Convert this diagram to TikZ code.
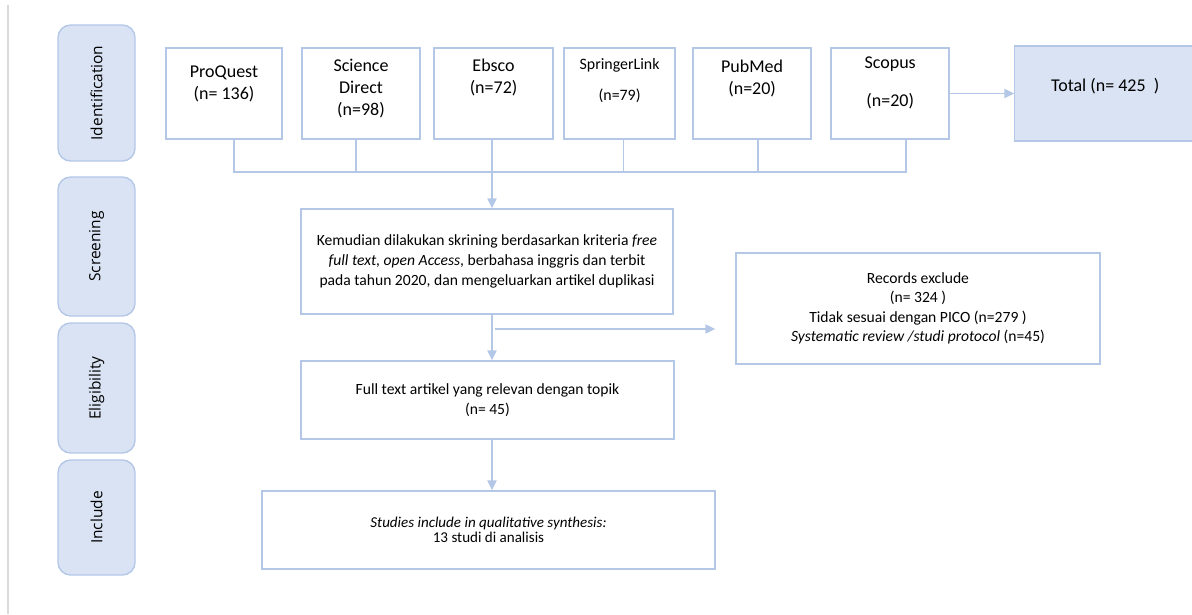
\documentclass[tikz,border=0pt]{standalone}
\usepackage{fontspec}
\setmainfont{Carlito}
\newfontfamily\stagefont{Open Sans}
\usepackage{xcolor}
\usetikzlibrary{arrows.meta,positioning}
\definecolor{lineblue}{RGB}{180,199,231}
\definecolor{fillblue}{RGB}{218,227,243}
\definecolor{edgegray}{RGB}{218,218,218}

\begin{document}
\begin{tikzpicture}[x=0.025cm, y=-0.025cm]
    \tikzstyle{stage} = [rectangle, draw=lineblue, fill=fillblue, line width=1pt, rounded corners=9pt, minimum width=1.925cm, font=\stagefont\fontsize{11}{13}\selectfont]
    \tikzstyle{dbbox} = [rectangle, draw=lineblue, line width=1pt, outer sep=0pt, minimum height=2.275cm]
    \tikzstyle{dbtext} = [align=center, inner sep=0pt, font=\fontsize{12.8}{15.6}\selectfont]
    \tikzstyle{block} = [rectangle, draw=lineblue, line width=1pt, align=center, font=\fontsize{11.1}{14.3}\selectfont]
    \tikzstyle{line} = [draw=lineblue, line width=1pt]
    \tikzstyle{arrow} = [line, -{Triangle[length=7pt,width=6.5pt]}]

    \useasboundingbox (0,0) rectangle (1192,614);
    \draw [edgegray, line width=1.5pt] (8,5) -- (8,614);

    % stages on the left
    \node [stage, minimum height=3.4cm] (ident) at (96.5,93) {\rotatebox{90}{Identification}};
    \node [stage, minimum height=3.475cm] (screening) at (96.5,246.5) {\rotatebox{90}{Screening}};
    \node [stage, minimum height=3.25cm] (eligibility) at (96.5,388) {\rotatebox{90}{Eligibility}};
    \node [stage, minimum height=2.875cm] (include) at (96.5,517.5) {\rotatebox{90}{Include}};

    % databases
    \node [dbbox, minimum width=2.9cm] (proquest) at (224,93.5) {};
    \node [dbbox, minimum width=2.95cm, right=0.5cm of proquest] (scidirect) {};
    \node [dbbox, minimum width=2.975cm, right=0.35cm of scidirect] (ebsco) {};
    \node [dbbox, minimum width=2.775cm, right=0.275cm of ebsco] (springer) {};
    \node [dbbox, minimum width=2.95cm, right=0.45cm of springer] (pubmed) {};
    \node [dbbox, minimum width=2.95cm, right=0.5cm of pubmed] (scopus) {};
    \node [dbbox, fill=fillblue, minimum width=4.55cm, minimum height=2.375cm, right=1.625cm of scopus] (total) {};

    \node [dbtext] (proquest-t) at ([yshift=0.24cm]proquest.center) {ProQuest\\(n= 136)};
    \node [dbtext] (scidirect-t) at ([yshift=0.125cm]scidirect.center) {Science\\Direct\\(n=98)};
    \node [dbtext] (ebsco-t) at ([yshift=0.4cm]ebsco.center) {Ebsco\\(n=72)};
    \node [dbtext, font=\fontsize{11.3}{14}\selectfont] (springer-t) at ([yshift=0.325cm]springer.center) {SpringerLink\\[0.28cm](n=79)};
    \node [dbtext] (pubmed-t) at ([yshift=0.375cm]pubmed.center) {PubMed\\(n=20)};
    \node [dbtext] (scopus-t) at ([yshift=0.26cm]scopus.center) {Scopus\\[0.4cm](n=20)};
    \node [dbtext] (total-t) at ([yshift=0.19cm]total.center) {Total (n= 425\ \ )};

    % flow boxes
    \node [block, minimum width=9.3cm, minimum height=2.625cm] (screen) at (487,261.5) {Kemudian dilakukan skrining berdasarkan kriteria \textit{free}\\\textit{full text, open Access}, berbahasa inggris dan terbit\\pada tahun 2020, dan mengeluarkan artikel duplikasi};
    \node [block, minimum width=9.1cm, minimum height=2.775cm, font=\fontsize{11.1}{13.8}\selectfont] (exclude) at (918,308.5) {Records exclude\\(n= 324 )\\Tidak sesuai dengan PICO (n=279 )\\\textit{Systematic review /studi protocol} (n=45)};
    \node [block, minimum width=9.325cm, minimum height=1.95cm] (elig) at (487.5,400) {Full text artikel yang relevan dengan topik\\(n= 45)};
    \node [block, minimum width=11.325cm, minimum height=1.95cm, font=\fontsize{10.7}{10.6}\selectfont] (incl) at (488.5,530) {\textit{Studies include in qualitative synthesis:}\\13 studi di analisis};

    % connectors
    \coordinate (bus) at (492,172);
    \coordinate (split) at (492,329);
    \draw [line] ([xshift=0.25cm]proquest.south) |- (bus) -| ([xshift=0.4cm]scopus.south);
    \draw [line] ([xshift=-0.125cm]scidirect.south) -- ([xshift=-0.125cm]scidirect.south |- bus);
    \draw [line] ([xshift=-0.04cm]ebsco.south) -- ([xshift=-0.04cm]ebsco.south |- bus);
    \draw [line] ([xshift=0.09cm]springer.south) -- ([xshift=0.09cm]springer.south |- bus);
    \draw [line] ([xshift=0.15cm]pubmed.south) -- ([xshift=0.15cm]pubmed.south |- bus);
    \draw [arrow] (scopus.east) -- (scopus.east -| total.west);
    \draw [arrow] (bus) -- (bus |- screen.north);
    \draw [arrow] (bus |- screen.south) -- (bus |- elig.north);
    \draw [arrow, shorten >=0.5cm] ([xshift=0.08cm]split) -- (split -| exclude.west);
    \draw [arrow] (bus |- elig.south) -- (bus |- incl.north);
\end{tikzpicture}
\end{document}
